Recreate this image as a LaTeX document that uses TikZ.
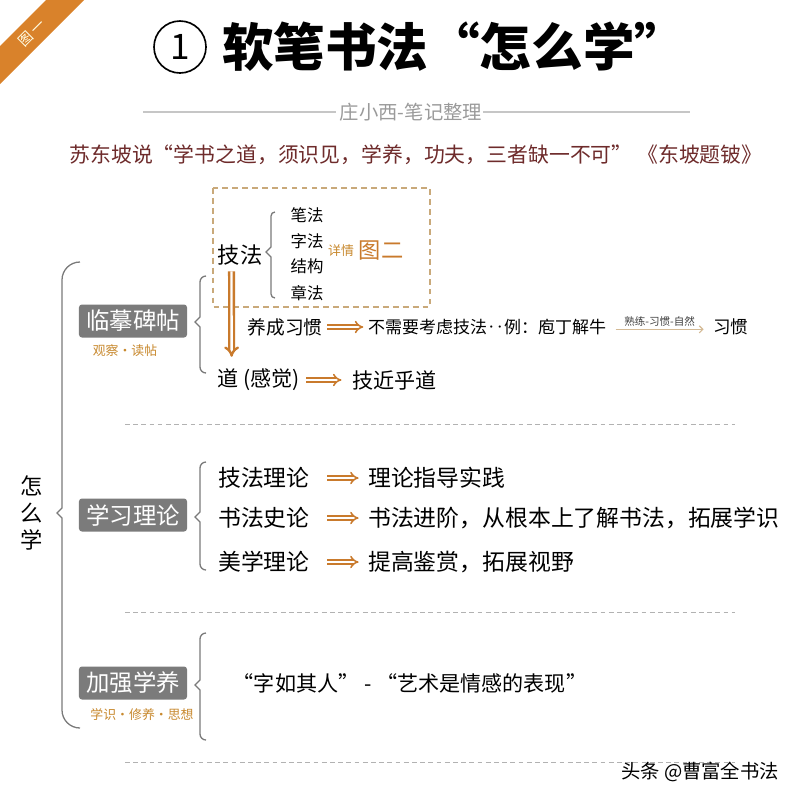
\documentclass[tikz,border=0pt]{standalone}
\usepackage{fontspec}
\setmainfont{Noto Sans CJK SC}
\usetikzlibrary{arrows.meta,calc,positioning}
\definecolor{bannerorange}{HTML}{D9822B}
\definecolor{arrorange}{HTML}{C97A2C}
\definecolor{noteorange}{HTML}{C8892E}
\definecolor{tagray}{HTML}{7B7B7B}
\definecolor{bracegray}{HTML}{7A7A7A}
\definecolor{dashtan}{HTML}{C9A97A}
\definecolor{quotered}{HTML}{6E2B2B}
\definecolor{subgray}{HTML}{9A9A9A}
\newcommand{\fsz}[1]{\fontsize{#1}{#1}\selectfont}
% bracket: [hook] x top tip bottom
\newcommand{\kuo}[5][6]{%
  \draw[brace] ({#2+#1},#3) to[out=180,in=90] (#2,{#3+#1}) -- (#2,{#4-5})
    -- ({#2-5},#4) -- (#2,{#4+5}) -- (#2,{#5-#1}) to[out=-90,in=180] ({#2+#1},#5);}

\begin{document}
\begin{tikzpicture}[x=0.03cm, y=-0.03cm,
    txt/.style={inner sep=0pt, font=\fsz{19.5}},
    item/.style={inner sep=0pt, font=\fsz{14}},
    note/.style={inner sep=0pt, text=noteorange, font=\fsz{11}},
    tag/.style={fill=tagray, text=white, rounded corners=2.5pt, inner sep=0pt,
      minimum width=3.24cm, minimum height=0.99cm, font=\fsz{20}},
    brace/.style={draw=bracegray, line width=1.1pt},
    imp/.style={draw=arrorange, double=white, double distance=2.2pt, line width=1.3pt,
      -{Implies}},
    sep/.style={draw=gray!60, line width=0.6pt, dash pattern=on 4pt off 3pt}]
  \useasboundingbox (0,0) rectangle (800,800);
  \fill[white] (0,0) rectangle (800,800);

  % corner banner
  \fill[bannerorange] (0,46) -- (46,0) -- (84,0) -- (0,84) -- cycle;
  \node[rotate=45, text=white!90!yellow, inner sep=0pt, font=\fsz{12}] (fig) at (32,33) {图\,一};

  % title
  \node[circle, draw, line width=1.4pt, minimum size=1.56cm, inner sep=0pt, font=\fsz{30}] (num) at (180,47) {1};
  \node[anchor=west, inner sep=0pt, font=\fsz{44}\bfseries] (title) at (222,47) {软笔书法“怎么学”};
  \node[inner sep=0pt, text=subgray, font=\fsz{16.5}] (sub) at (411,112) {庄小西-笔记整理};
  \draw[gray!45, line width=0.9pt] (143,112) -- ([xshift=-3pt]sub.west);
  \draw[gray!45, line width=0.9pt] ([xshift=1pt]sub.east) -- (690,112);
  \node[inner sep=0pt, text=quotered, font=\fsz{17.8}] (quote) at (416,155)
    {苏东坡说“学书之道，须识见，学养，功夫，三者缺一不可”\ 《东坡题铍》};

  % root
  \node[inner sep=0pt, align=center, font=\fsz{19}] (root) at (32,513) {怎\\[4pt]么\\[4pt]学};
  \kuo[18]{62}{262}{513}{728}

  % section 1
  \node[tag] (t1) at (133,321) {临摹碑帖};
  \node[note] (n1) at (125,351) {观察·读帖};
  \kuo{200}{276}{322}{373}
  \draw[draw=dashtan, line width=0.9pt, dash pattern=on 5pt off 3.5pt] (213,188) rectangle (430,307);
  \node[inner sep=0pt, font=\fsz{19}] (jifa) at (240,255) {技法};
  \kuo[4]{271}{212}{252}{298}
  \foreach \t/\y [count=\i] in {笔法/215,字法/241,结构/266,章法/293}
    \node[item] (fa\i) at (307,\y) {\t};
  \node[note] (xq) at (341,251) {详情};
  \node[inner sep=0pt, text=arrorange, font=\fsz{19}] (tu2) at (381,251) {图二};
  \node[inner sep=0pt, font=\fsz{16}] (yang) at (285,327) {养成习惯};
  \node[anchor=west, inner sep=0pt, font=\fsz{14.5}] (buxu) at (368,327) {不需要考虑技法‥例：庖丁解牛};
  \node[anchor=west, inner sep=0pt, font=\fsz{15}] (xg) at (713,327) {习惯};
  \node[inner sep=0pt, font=\fsz{18}] (dao) at (259,380) {道 (感觉)};
  \node[anchor=west, inner sep=0pt, font=\fsz{18}] (jin) at (352,380) {技近乎道};
  \draw[imp, line width=2pt, double distance=2pt] ($(jifa.south west)+(14,6)$) -- ($(dao.north west)+(14,-12)$);
  \draw[imp, shorten <=4pt, shorten >=4pt] (yang) -- (buxu);
  \draw[imp, shorten <=5pt, shorten >=9pt] (dao) -- (jin);
  \draw[draw=dashtan!80, line width=1pt, -{Straight Barb[length=3pt]}, shorten <=8pt, shorten >=8pt]
    ([yshift=-2pt]buxu.east) -- node[above=2pt, inner sep=0pt, text=black!75, font=\fsz{9}] (shu) {熟练-习惯-自然} ([yshift=-2pt]xg.west);
  \draw[sep] (125,424) -- (735,424);

  % section 2
  \node[tag] (t2) at (133,515) {学习理论};
  \kuo{200}{462}{517}{570}
  \foreach \a/\b/\y [count=\i] in {技法理论/理论指导实践/478,
      书法史论/书法进阶，从根本上了解书法，拓展学识/518,
      美学理论/提高鉴赏，拓展视野/562} {
    \node[txt, anchor=west] (l\i) at (218,\y) {\a};
    \node[txt, anchor=west] (r\i) at (368,\y) {\b};
    \draw[imp, shorten <=15pt, shorten >=8pt] (l\i) -- (r\i);
  }
  \draw[sep] (125,612) -- (735,612);

  % section 3
  \node[tag] (t3) at (133,683) {加强学养};
  \node[note] (n3) at (142,715) {学识·修养·思想};
  \kuo{200}{633}{685}{740}
  \node[inner sep=0pt, font=\fsz{18}] (ren) at (410,683) {“字如其人” - “艺术是情感的表现”};
  \draw[sep] (125,762) -- (735,762);

  \node[inner sep=0pt, font=\fsz{16.5}] (mark) at (700,772) {头条 @曹富全书法};
\end{tikzpicture}
\end{document}
